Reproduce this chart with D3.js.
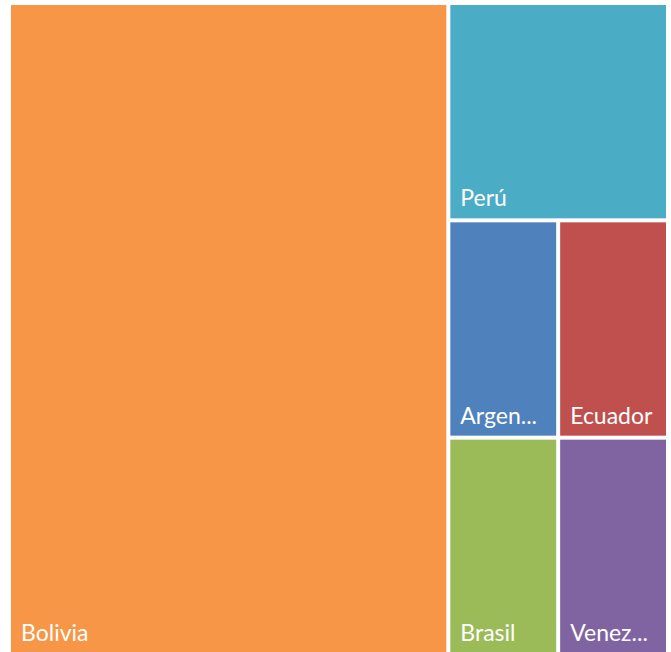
<!DOCTYPE html>
<html>
<head>
<meta charset="utf-8">
<script src="https://cdn.jsdelivr.net/npm/d3@7"></script>
<style>
  html, body { margin: 0; padding: 0; background: #ffffff; }
  svg { display: block; }
</style>
</head>
<body>
<svg id="chart" width="671" height="652"></svg>
<script>
const categories = ["Bolivia", "Perú", "Argentina", "Ecuador", "Brasil", "Venezuela"];
const values = [12, 2, 1, 1, 1, 1];
const colors = ["#F79646", "#4BACC6", "#4F81BD", "#C0504D", "#9BBB59", "#8064A2"];

const svg = d3.select("#chart");
const margin = { left: 11, top: 5 };
const W = 655, H = 648;

const root = d3.hierarchy({ children: categories.map((c, i) => ({ name: c, value: values[i], color: colors[i] })) })
  .sum(d => d.value || 0);

d3.treemap()
  .tile(d3.treemapSquarify.ratio(1))
  .size([W, H])
  .paddingInner(4)
  (root);

const g = svg.append("g").attr("transform", `translate(${margin.left},${margin.top})`);

const cell = g.selectAll("g.cell")
  .data(root.leaves())
  .join("g")
  .attr("class", "cell");

cell.append("rect")
  .attr("x", d => d.x0)
  .attr("y", d => d.y0)
  .attr("width", d => d.x1 - d.x0)
  .attr("height", d => d.y1 - d.y0)
  .attr("fill", d => d.data.color);

const fontSize = 23;
const padX = 10;
cell.append("text")
  .attr("x", d => d.x0 + padX)
  .attr("y", d => d.y1 - 12)
  .attr("fill", "#ffffff")
  .style("font-family", "Lato, 'Open Sans', sans-serif")
  .style("font-size", fontSize + "px")
  .text(d => d.data.name)
  .each(function(d) {
    const maxW = (d.x1 - d.x0) - 2 * padX - 2;
    const el = d3.select(this);
    const full = d.data.name;
    if (this.getComputedTextLength() > maxW) {
      let n = full.length;
      while (n > 1) {
        n--;
        el.text(full.slice(0, n) + "...");
        if (this.getComputedTextLength() <= maxW) break;
      }
    }
  });
</script>
</body>
</html>
